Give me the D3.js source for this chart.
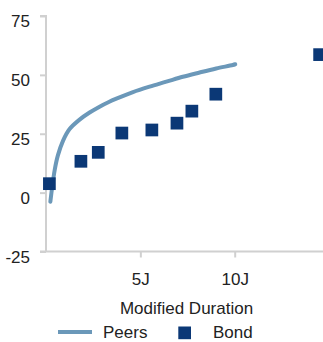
<!DOCTYPE html>
<html>
<head>
<meta charset="utf-8">
<script src="https://cdn.jsdelivr.net/npm/d3@7/dist/d3.min.js"></script>
<style>
  html, body { margin: 0; padding: 0; background: #fff; }
  svg { display: block; font-family: "Liberation Sans", Arial, sans-serif; }
</style>
</head>
<body>
<svg id="chart" width="323" height="342"></svg>
<script>
// Peers curve: modified duration (years) vs. value
const peersX = [0.23, 0.33, 0.46, 0.63, 0.9, 1.25, 1.78, 2.31, 2.84, 3.33, 3.73, 4.61, 5.49, 6.38, 7.25, 8.14, 9.02, 9.9, 10.03];
const peersY = [-3.9, 2.5, 9.6, 15.8, 22.0, 27.0, 31.0, 34.0, 36.5, 38.5, 39.9, 42.7, 45.0, 47.1, 49.2, 51.0, 52.7, 54.2, 54.5];

// Individual bonds
const bondX = [0.18, 1.85, 2.77, 4.02, 5.61, 6.94, 7.73, 9.0, 14.5];
const bondY = [3.8, 13.3, 17.1, 25.3, 26.6, 29.5, 34.6, 41.8, 58.6];

const yTicks = [-25, 0, 25, 50, 75];
const xTicks = [5, 10];
const xTickLabels = ["5J", "10J"];
const seriesNames = ["Peers", "Bond"];

const colors = { peers: "#6b98b9", bond: "#0b3876", axis: "#d0d0d0", text: "#222" };
const fontSize = 17;

const svg = d3.select("#chart");
const plotLeft = 46, plotTop = 16, plotBottom = 251.5;

const x = d3.scaleLinear().domain([0, 15]).range([plotLeft, plotLeft + 15 * 18.87]);
const y = d3.scaleLinear().domain([-25, 75]).range([plotBottom, plotTop]);

// Y axis
const yAxis = d3.axisLeft(y).tickValues(yTicks).tickSize(6).tickPadding(10).tickFormat(d => String(d));
const gy = svg.append("g").attr("transform", `translate(${plotLeft},0)`).call(yAxis);
gy.select(".domain").attr("stroke", colors.axis).attr("stroke-width", 2).attr("d", `M-6,${plotTop}H0V${plotBottom}`);
gy.selectAll(".tick line").attr("stroke", colors.axis).attr("stroke-width", 2);
gy.selectAll(".tick text").attr("fill", colors.text).attr("font-size", fontSize)
  .attr("font-family", "Liberation Sans, Arial, sans-serif").attr("y", 5.5);

// X axis
const xAxis = d3.axisBottom(x).tickValues(xTicks).tickSize(6).tickPadding(15)
  .tickFormat((d, i) => xTickLabels[i]);
const gx = svg.append("g").attr("transform", `translate(0,${plotBottom})`).call(xAxis);
gx.select(".domain").attr("stroke", colors.axis).attr("stroke-width", 2).attr("d", `M${plotLeft - 6},0H330`);
gx.selectAll(".tick line").attr("stroke", colors.axis).attr("stroke-width", 2);
gx.selectAll(".tick text").attr("fill", colors.text).attr("font-size", fontSize)
  .attr("font-family", "Liberation Sans, Arial, sans-serif");

// Axis title
svg.append("text")
  .attr("x", 186.5).attr("y", 314)
  .attr("text-anchor", "middle")
  .attr("font-size", fontSize).attr("fill", colors.text)
  .text("Modified Duration");

// Peers line
const peers = peersX.map((d, i) => [d, peersY[i]]);
svg.append("path")
  .datum(peers)
  .attr("fill", "none")
  .attr("stroke", colors.peers)
  .attr("stroke-width", 4)
  .attr("stroke-linecap", "round")
  .attr("d", d3.line().x(d => x(d[0])).y(d => y(d[1])).curve(d3.curveCatmullRom.alpha(0.5)));

// Bond markers
const sq = 12.7;
svg.append("g").selectAll("rect")
  .data(bondX.map((d, i) => [d, bondY[i]]))
  .join("rect")
  .attr("x", d => x(d[0]) - sq / 2)
  .attr("y", d => y(d[1]) - sq / 2)
  .attr("width", sq).attr("height", sq)
  .attr("fill", colors.bond);

// Legend
const lg = svg.append("g");
lg.append("line").attr("x1", 58).attr("x2", 92).attr("y1", 332).attr("y2", 332)
  .attr("stroke", colors.peers).attr("stroke-width", 4);
lg.append("text").attr("x", 103).attr("y", 338).attr("font-size", fontSize).attr("fill", colors.text).text(seriesNames[0]);
lg.append("rect").attr("x", 178.3).attr("y", 326.5).attr("width", sq).attr("height", sq).attr("fill", colors.bond);
lg.append("text").attr("x", 213).attr("y", 338).attr("font-size", fontSize).attr("fill", colors.text).text(seriesNames[1]);
</script>
</body>
</html>
